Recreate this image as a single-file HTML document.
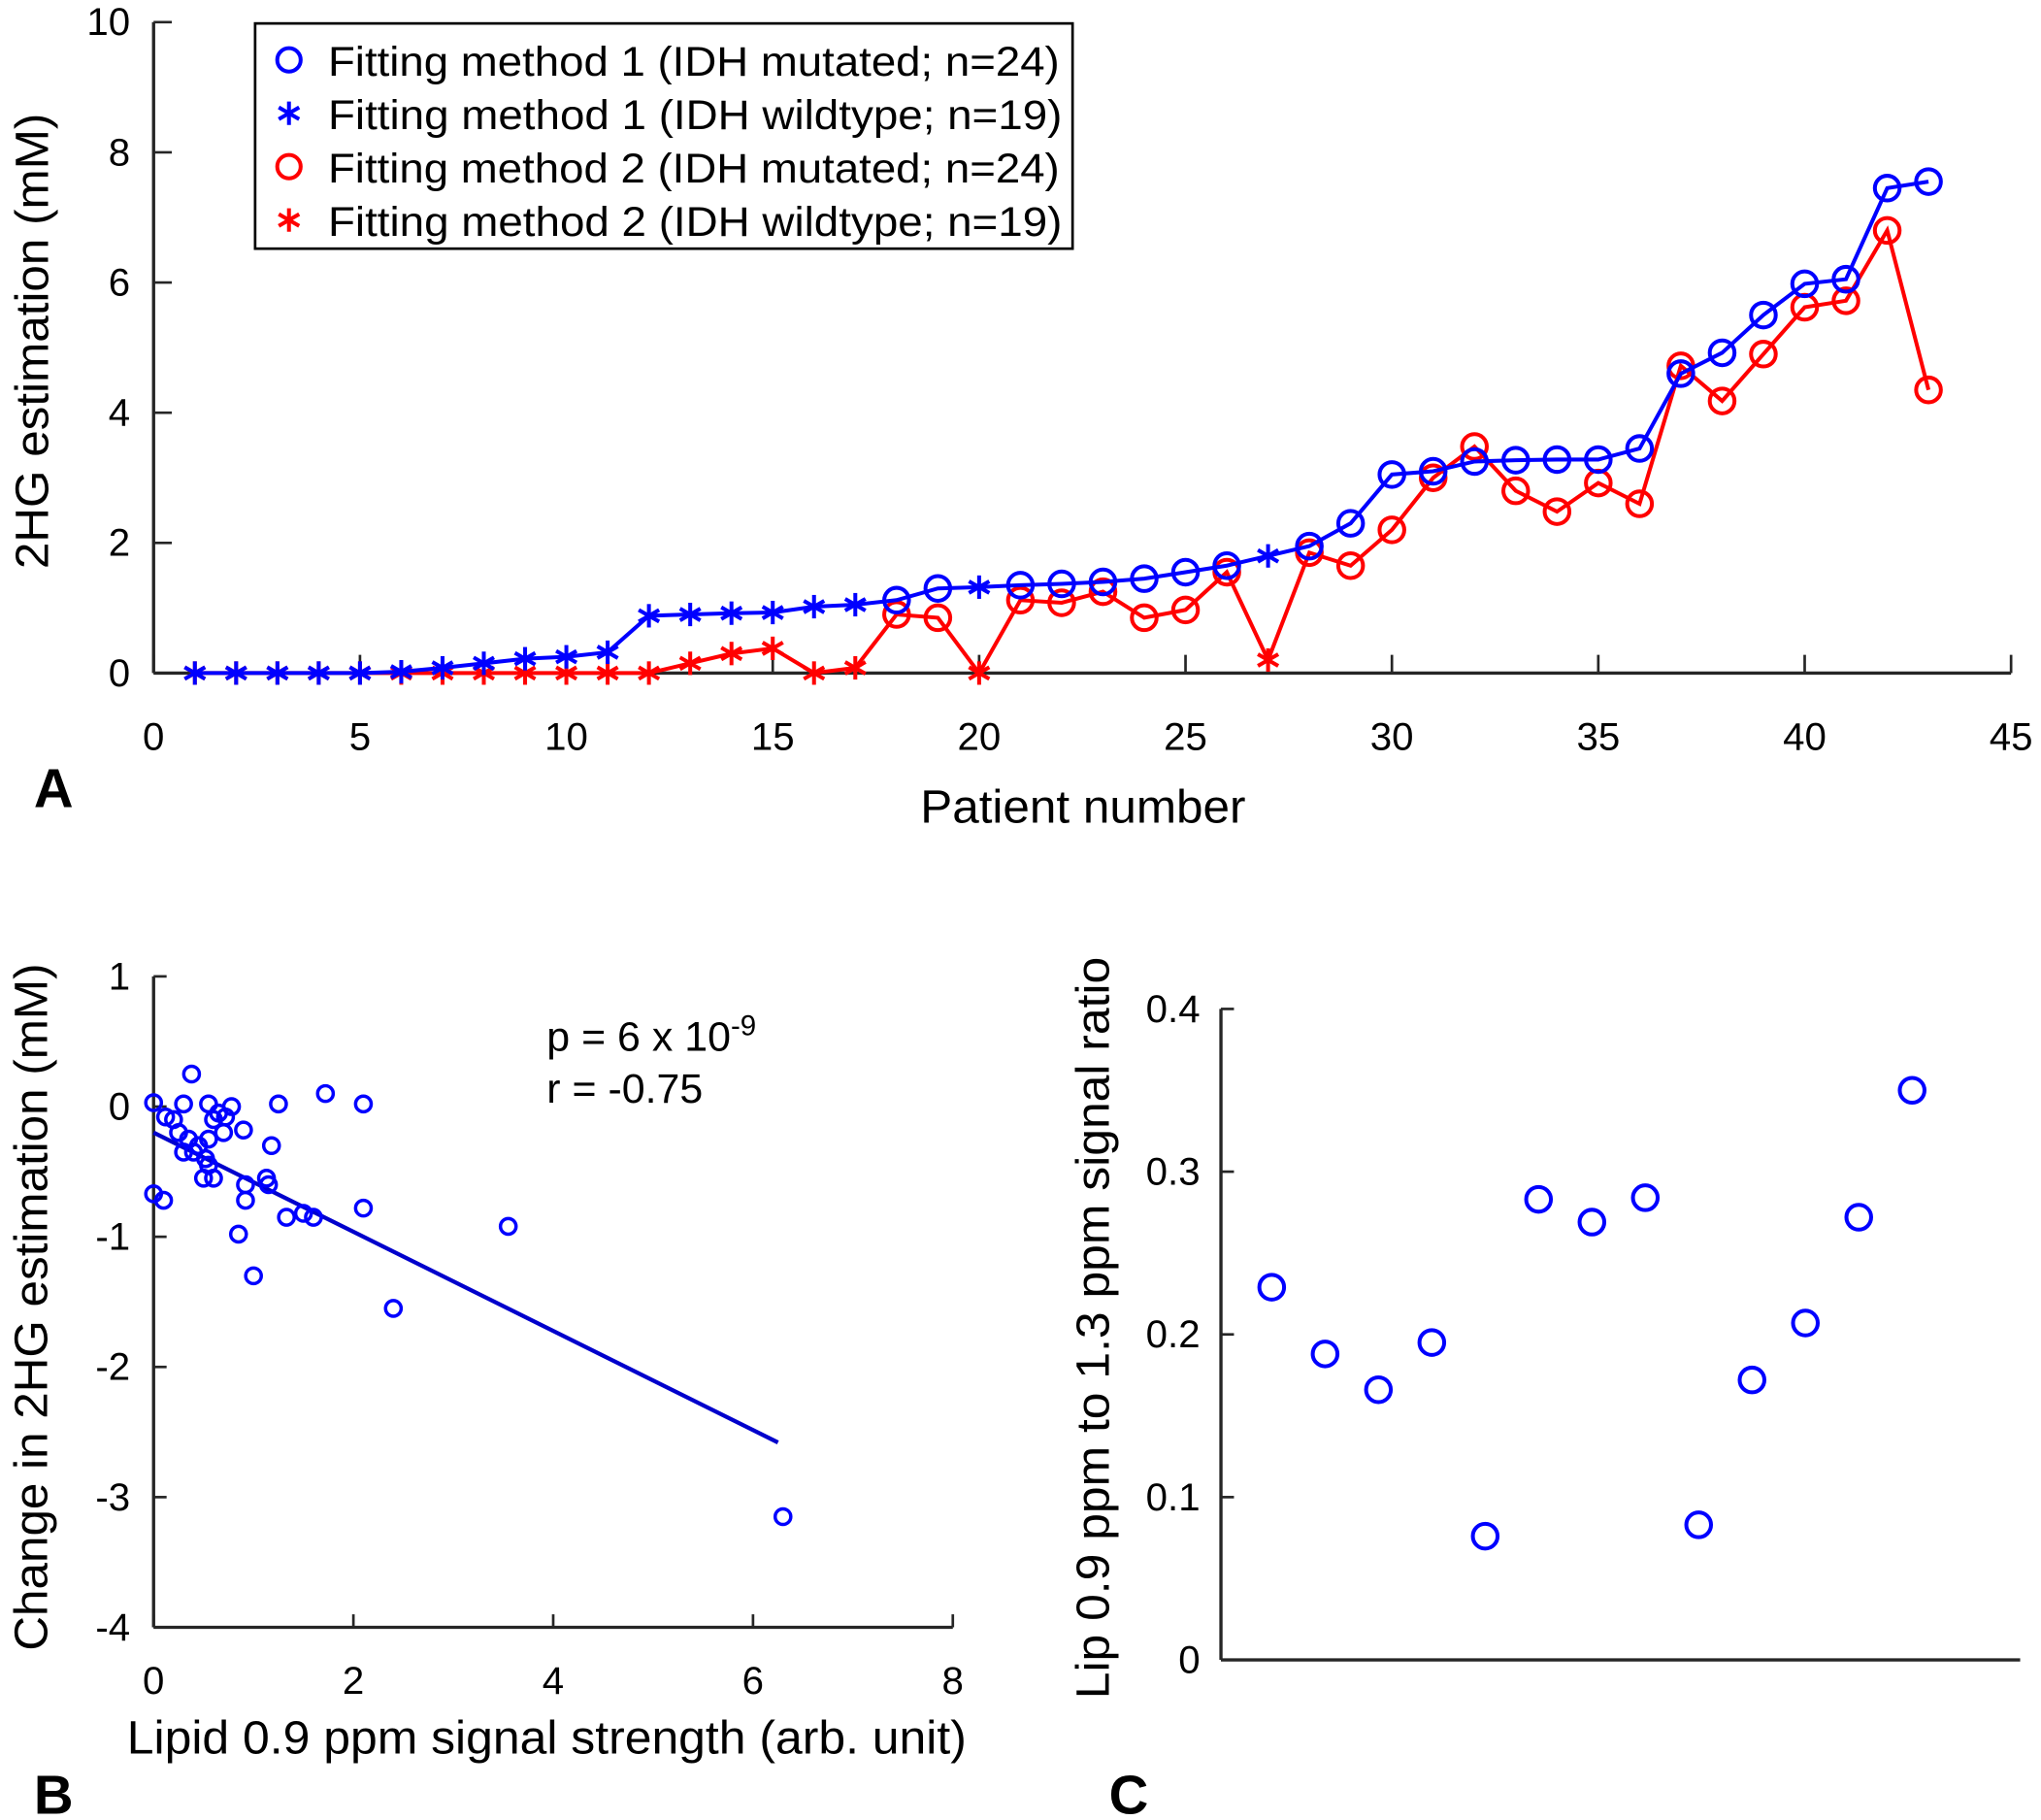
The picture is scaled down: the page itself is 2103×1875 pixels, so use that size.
<!DOCTYPE html>
<html><head><meta charset="utf-8"><style>
html,body{margin:0;padding:0;background:#fff}
svg{display:block}
text{font-family:"Liberation Sans",Arial,sans-serif;fill:#000}
</style></head><body>
<svg id="fig" width="2103" height="1875" viewBox="0 0 1568 1398" preserveAspectRatio="none" xmlns="http://www.w3.org/2000/svg">
<rect width="1568" height="1398" fill="#fff"/>
<g id="A"></g>
<g id="B"></g>
<g id="C"></g>
</svg>
<script>
// Panel A data
const patients = Array.from({length:43},(_,i)=>i+1);
const method1 = [0,0,0,0,0,0.02,0.08,0.15,0.22,0.25,0.32,0.88,0.9,0.92,0.93,1.02,1.05,1.12,1.3,1.32,1.35,1.37,1.4,1.45,1.55,1.65,1.8,1.95,2.3,3.05,3.1,3.25,3.27,3.28,3.28,3.45,4.6,4.92,5.5,5.98,6.05,7.45,7.55];
const method2 = [0,0,0,0,0,0,0,0,0,0,0,0,0.15,0.3,0.38,0,0.08,0.9,0.85,0,1.12,1.08,1.25,0.85,0.97,1.55,0.2,1.85,1.65,2.2,3.0,3.48,2.8,2.48,2.92,2.6,4.72,4.18,4.9,5.62,5.72,6.8,4.35];
const wildtype = [1,2,3,4,5,6,7,8,9,10,11,12,13,14,15,16,17,20,27];
const aXTicks = [0,5,10,15,20,25,30,35,40,45];
const aYTicks = [0,2,4,6,8,10];
// Panel B data
const lipid = [0,0,0.1,0.12,0.2,0.25,0.3,0.3,0.35,0.38,0.4,0.45,0.5,0.52,0.55,0.55,0.55,0.6,0.6,0.65,0.7,0.72,0.78,0.85,0.9,0.92,0.92,1.0,1.13,1.15,1.18,1.25,1.33,1.5,1.6,1.72,2.1,2.1,2.4,3.55,6.3];
const change = [0.03,-0.67,-0.72,-0.08,-0.1,-0.2,0.02,-0.35,-0.25,0.25,-0.35,-0.3,-0.55,-0.4,0.02,-0.45,-0.25,-0.55,-0.1,-0.05,-0.2,-0.08,0,-0.98,-0.18,-0.6,-0.72,-1.3,-0.55,-0.6,-0.3,0.02,-0.85,-0.82,-0.85,0.1,0.02,-0.78,-1.55,-0.92,-3.15];
const fitX = [0,6.25];
const fitY = [-0.2,-2.58];
const bXTicks = [0,2,4,6,8];
const bYTicks = [1,0,-1,-2,-3,-4];
// Panel C data
const ratio = [0.229,0.188,0.166,0.195,0.076,0.283,0.269,0.284,0.083,0.172,0.207,0.272,0.350];
const cYTicks = [0,0.1,0.2,0.3,0.4];

const NS='http://www.w3.org/2000/svg';
function mk(parent,tag,attrs,txt){const e=document.createElementNS(NS,tag);for(const k in attrs)e.setAttribute(k,attrs[k]);if(txt!==undefined)e.textContent=txt;parent.appendChild(e);return e;}
const BLUE='#0000ff', RED='#ff0000', AX='#262626';
function star(g,x,y,c,name){const s=mk(g,'g',{stroke:c,'stroke-width':3});
 
 
 const r=9;mk(s,'line',{x1:x,y1:y-r,x2:x,y2:y+r});mk(s,'line',{x1:x-r*0.87,y1:y-r*0.5,x2:x+r*0.87,y2:y+r*0.5});mk(s,'line',{x1:x-r*0.87,y1:y+r*0.5,x2:x+r*0.87,y2:y-r*0.5});}

// ---- Panel A ----
(function(){
const g=document.getElementById('A');
const X=v=>118+v*(1545-118)/45, Y=v=>517-v*50;
mk(g,'line',{x1:118,y1:517,x2:1545,y2:517,stroke:AX,'stroke-width':2.5});
mk(g,'line',{x1:118,y1:17,x2:118,y2:517,stroke:AX,'stroke-width':2.5});
aXTicks.forEach(t=>{mk(g,'line',{x1:X(t),y1:517,x2:X(t),y2:503,stroke:AX,'stroke-width':2});
 const tx=mk(g,'text',{x:X(t),y:576,'text-anchor':'middle','font-size':30},t);
 
 });
aYTicks.forEach(t=>{mk(g,'line',{x1:118,y1:Y(t),x2:132,y2:Y(t),stroke:AX,'stroke-width':2});
 const tx=mk(g,'text',{x:100,y:Y(t)+10,'text-anchor':'end','font-size':30},t);
 
 });
mk(g,'text',{x:832,y:632,'text-anchor':'middle','font-size':36,textLength:250,lengthAdjust:'spacingAndGlyphs',},'Patient number');
mk(g,'text',{x:0,y:0,'text-anchor':'middle','font-size':36,textLength:350,lengthAdjust:'spacingAndGlyphs',transform:'translate(37,262) rotate(-90)',},'2HG estimation (mM)');
mk(g,'text',{x:26,y:620,'font-size':42,'font-weight':'bold',},'A');
[[method2,RED,'method2'],[method1,BLUE,'method1']].forEach(([arr,c,nm])=>{
 const pl=mk(g,'polyline',{points:patients.map((p,i)=>X(p)+','+Y(arr[i])).join(' '),fill:'none',stroke:c,'stroke-width':3});
 
 
 patients.forEach((p,i)=>{
  if(wildtype.includes(p)) star(g,X(p),Y(arr[i]),c,nm+'-wildtype-point');
  else{const ci=mk(g,'circle',{cx:X(p),cy:Y(arr[i]),r:9.5,fill:'none',stroke:c,'stroke-width':3});
   
   }
 });
});
const lg=mk(g,'g',{});
mk(lg,'rect',{x:196,y:18,width:628,height:173,fill:'#fff',stroke:'#000','stroke-width':2});
const items=[['Fitting method 1 (IDH mutated; n=24)',BLUE,'o',562],['Fitting method 1 (IDH wildtype; n=19)',BLUE,'*',564],['Fitting method 2 (IDH mutated; n=24)',RED,'o',562],['Fitting method 2 (IDH wildtype; n=19)',RED,'*',564]];
items.forEach((it,i)=>{const y=46+i*41;
 const e=mk(lg,'g',{});
 if(it[2]==='o') mk(e,'circle',{cx:222,cy:y,r:9,fill:'none',stroke:it[1],'stroke-width':3});
 else star(e,222,y,it[1],'legend-star');
 mk(e,'text',{x:252,y:y+12,'font-size':32,textLength:it[3],lengthAdjust:'spacingAndGlyphs'},it[0]);});
})();

// ---- Panel B ----
(function(){
const g=document.getElementById('B');
const X=v=>118+v*(732-118)/8, Y=v=>850-v*100;
mk(g,'line',{x1:118,y1:1250,x2:732,y2:1250,stroke:AX,'stroke-width':2.5});
mk(g,'line',{x1:118,y1:750,x2:118,y2:1250,stroke:AX,'stroke-width':2.5});
bXTicks.forEach(t=>{mk(g,'line',{x1:X(t),y1:1250,x2:X(t),y2:1240,stroke:AX,'stroke-width':2});
 const tx=mk(g,'text',{x:X(t),y:1301,'text-anchor':'middle','font-size':30},t);
 
 });
bYTicks.forEach(t=>{mk(g,'line',{x1:118,y1:Y(t),x2:128,y2:Y(t),stroke:AX,'stroke-width':2});
 const tx=mk(g,'text',{x:100,y:Y(t)+10,'text-anchor':'end','font-size':30},t);
 
 });
mk(g,'text',{x:420,y:1347,'text-anchor':'middle','font-size':36,textLength:645,lengthAdjust:'spacingAndGlyphs',},'Lipid 0.9 ppm signal strength (arb. unit)');
mk(g,'text',{x:0,y:0,'text-anchor':'middle','font-size':36,textLength:528,lengthAdjust:'spacingAndGlyphs',transform:'translate(36,1004) rotate(-90)',},'Change in 2HG estimation (mM)');
mk(g,'text',{x:26,y:1393,'font-size':42,'font-weight':'bold',},'B');
const fl=mk(g,'line',{x1:X(fitX[0]),y1:Y(fitY[0]),x2:X(fitX[1]),y2:Y(fitY[1]),stroke:'#0000cc','stroke-width':3.2});


lipid.forEach((v,i)=>{const c=mk(g,'circle',{cx:X(v),cy:Y(change[i]),r:6,fill:'none',stroke:BLUE,'stroke-width':2.6});
 
 });
const st=mk(g,'text',{x:420,y:807,'font-size':32,});
st.innerHTML='p = 6 x 10<tspan dy="-12" font-size="22">-9</tspan>';
mk(g,'text',{x:420,y:847,'font-size':32,},'r = -0.75');
})();

// ---- Panel C ----
(function(){
const g=document.getElementById('C');
const X=v=>936+v*41, Y=v=>1275-v*1250;
mk(g,'line',{x1:938,y1:1275,x2:1552,y2:1275,stroke:AX,'stroke-width':2.5});
mk(g,'line',{x1:938,y1:775,x2:938,y2:1275,stroke:AX,'stroke-width':2.5});
cYTicks.forEach(t=>{mk(g,'line',{x1:938,y1:Y(t),x2:948,y2:Y(t),stroke:AX,'stroke-width':2});
 const tx=mk(g,'text',{x:922,y:Y(t)+10,'text-anchor':'end','font-size':30},t);
 
 });
mk(g,'text',{x:0,y:0,'text-anchor':'middle','font-size':36,textLength:570,lengthAdjust:'spacingAndGlyphs',transform:'translate(852,1020) rotate(-90)',},'Lip 0.9 ppm to 1.3 ppm signal ratio');
mk(g,'text',{x:852,y:1393,'font-size':42,'font-weight':'bold',},'C');
ratio.forEach((v,i)=>{const c=mk(g,'circle',{cx:X(i+1),cy:Y(v),r:9.5,fill:'none',stroke:BLUE,'stroke-width':3});
 
 });
})();
</script>
</body></html>
